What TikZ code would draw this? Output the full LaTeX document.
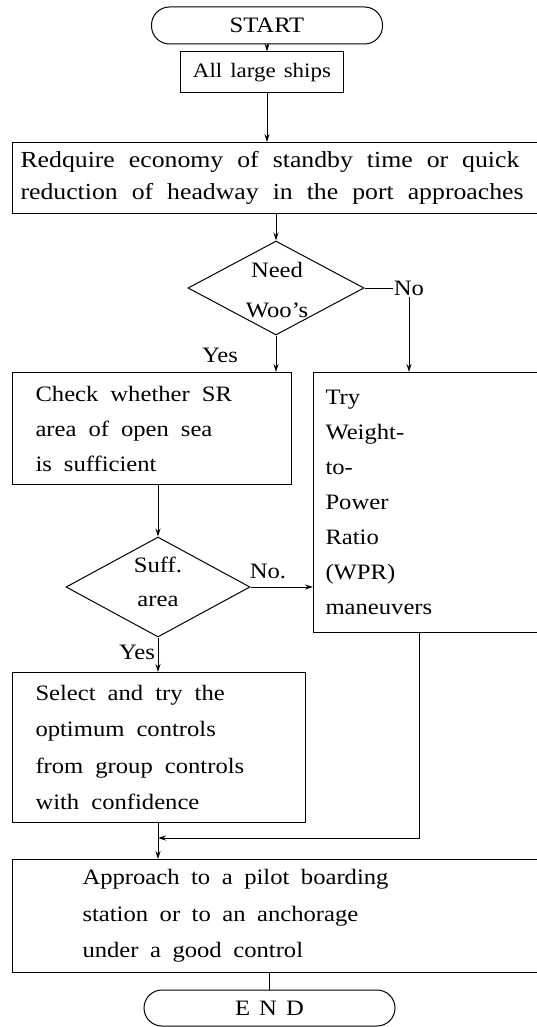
\documentclass[tikz,border=0pt]{standalone}
\usepackage{fontspec}
\setmainfont{Liberation Serif}[FakeStretch=1.12]
\usetikzlibrary{shapes.geometric,arrows.meta,calc}
\newcommand\wsp[1]{\spaceskip=#1\relax}
\begin{document}
\begin{tikzpicture}[x=1pt,y=-1pt,
  every node/.style={font=\fontsize{22}{35}\selectfont},
  box/.style={draw, line width=1pt, rectangle, anchor=north west, inner ysep=0pt, align=left},
  term/.style={draw, line width=1pt, rounded corners=18pt, inner sep=0pt},
  dec/.style={draw, diamond, line width=1pt, inner sep=0pt},
  lbl/.style={inner sep=1pt},
  arr/.style={line width=1pt, -{Stealth[length=8pt,width=5pt]}},
  ln/.style={line width=1pt}]
\path[use as bounding box] (0,0) rectangle (537,1027);
\clip (0,0) rectangle (537,1027);

\node[term, minimum width=231, minimum height=37] (start) at (267,25.5) {\wsp{0pt}START};
\node[draw, line width=1pt, minimum width=163, minimum height=41, inner sep=0pt, font=\fontsize{20.5}{30}\selectfont] (ships) at (262,72.5) {\wsp{8pt}All large ships};
\node[box, minimum width=530, minimum height=71, inner xsep=8pt, text width=514pt, font=\fontsize{23}{32}\selectfont] (big) at (12,142)
  {\wsp{14pt}Redquire economy of standby time or quick\\reduction of headway in the port approaches};

\node[dec, minimum width=176, minimum height=94] (d1) at (276,288) {};
\node[align=center, font=\fontsize{22}{40}\selectfont] (d1t) at (277,290) {Need\\Woo's};
\node[lbl] (no1) at (409,288) {No};
\node[lbl] (yes1) at (220,355) {Yes};

\node[box, minimum width=279, minimum height=112, inner xsep=23pt, text width=233pt] (lbox) at (12,372)
  {\wsp{12pt}Check whether SR\\area of open sea\\is sufficient};
\node[box, minimum width=240, minimum height=260, inner xsep=12pt, text width=216pt] (rbox) at (313,372)
  {Try\\Weight-\\to-\\Power\\Ratio\\(WPR)\\maneuvers};

\node[dec, minimum width=184, minimum height=100] (d2) at (158,587) {};
\node[align=center, font=\fontsize{22}{34}\selectfont] (d2t) at (158,582) {Suff.\\area};
\node[lbl] (no2) at (268,571) {No.};
\node[lbl] (yes2) at (137,652) {Yes};

\node[box, minimum width=293, minimum height=150, inner xsep=23pt, text width=247pt, font=\fontsize{22}{36.5}\selectfont] (sbox) at (12,672)
  {\wsp{12pt}Select and try the\\optimum controls\\from group controls\\with confidence};
\node[box, minimum width=540, minimum height=113, inner xsep=70pt, text width=400pt, font=\fontsize{22}{36.5}\selectfont] (abox) at (12,859)
  {\wsp{11.5pt}Approach to a pilot boarding\\station or to an anchorage\\under a good control};
\node[term, minimum width=251, minimum height=36] (endn) at (269.5,1008) {\wsp{9pt}E N D};

\coordinate (rx) at (419,0);
\coordinate (my) at (0,838);

\draw[arr] (start.south) -- (start.south |- ships.north);
\draw[arr] (start.south |- ships.south) -- (start.south |- big.north);
\draw[arr] (d1.north |- big.south) -- (d1.north);
\draw[ln] (d1.east) -- (no1.west);
\draw[arr] (no1.south) -- (no1.south |- rbox.north);
\draw[arr] (d1.south) -- (d1.south |- lbox.north);
\draw[arr] (d2.north |- lbox.south) -- (d2.north);
\draw[arr] (d2.east) -- (d2.east -| rbox.west);
\draw[arr] (d2.south) -- (d2.south |- sbox.north);
\draw[arr] (d2.south |- sbox.south) -- (d2.south |- abox.north);
\draw[arr] (rbox.south -| rx) |- (d2.south |- my);
\draw[ln] (endn.north |- abox.south) -- (endn.north);
\end{tikzpicture}
\end{document}
